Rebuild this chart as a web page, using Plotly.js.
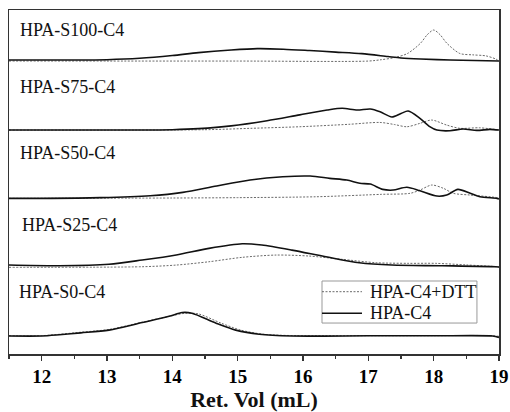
<!DOCTYPE html>
<html>
<head>
<meta charset="utf-8">
<script src="https://cdn.plot.ly/plotly-3.0.1.min.js"></script>
<style>html,body{margin:0;padding:0;background:#fff;}#chart{width:510px;height:412px;}</style>
</head>
<body>
<div id="chart"></div>
<script>
// Panel labels (top to bottom)
const panelLabels = ["HPA-S100-C4", "HPA-S75-C4", "HPA-S50-C4", "HPA-S25-C4", "HPA-S0-C4"];
const seriesNames = ["HPA-C4+DTT", "HPA-C4"];
const xTicks = [12, 13, 14, 15, 16, 17, 18, 19];

// HPA-S100-C4
const s100SolidX = [11.5, 12.5, 13.0, 13.5, 14.0, 14.4, 14.9, 15.3, 15.7, 16.1, 16.5, 16.9, 17.3, 17.5, 17.8, 18.25, 19.0];
const s100SolidY = [0.015, 0.015, 0.02, 0.04, 0.08, 0.122, 0.16, 0.18, 0.172, 0.152, 0.13, 0.107, 0.065, 0.045, 0.03, 0.015, 0.0];
const s100DttX = [11.5, 13.0, 15.0, 17.0, 17.2, 17.4, 17.6, 17.8, 17.9, 18.0, 18.1, 18.2, 18.4, 18.6, 18.8, 18.95, 19.0];
const s100DttY = [0.0, 0.0, 0.0, 0.0, 0.02, 0.05, 0.11, 0.26, 0.38, 0.45, 0.38, 0.26, 0.11, 0.09, 0.075, 0.03, 0.0];

// HPA-S75-C4
const s75SolidX = [11.5, 13.5, 14.0, 14.4, 14.9, 15.45, 15.95, 16.37, 16.6, 16.83, 17.03, 17.18, 17.36, 17.5, 17.61, 17.79, 17.94, 18.05, 18.25, 18.45, 18.66, 18.86, 19.0];
const s75SolidY = [0.0, 0.0, 0.005, 0.02, 0.06, 0.135, 0.22, 0.29, 0.315, 0.29, 0.305, 0.265, 0.19, 0.24, 0.275, 0.17, 0.05, 0.0, -0.01, 0.015, -0.005, 0.01, 0.0];
const s75DttX = [11.5, 14.5, 15.2, 15.95, 16.7, 17.18, 17.4, 17.59, 17.79, 17.97, 18.2, 18.4, 18.7, 18.97, 19.0];
const s75DttY = [0.0, 0.005, 0.025, 0.048, 0.083, 0.11, 0.08, 0.048, 0.097, 0.145, 0.072, 0.025, 0.033, 0.005, 0.0];

// HPA-S50-C4
const s50SolidX = [11.5, 12.0, 12.9, 13.66, 14.16, 14.68, 15.19, 15.69, 16.11, 16.41, 16.67, 16.87, 17.03, 17.22, 17.38, 17.59, 17.79, 18.05, 18.2, 18.37, 18.56, 18.71, 18.97, 19.0];
const s50SolidY = [0.01, 0.01, 0.02, 0.048, 0.097, 0.19, 0.275, 0.323, 0.333, 0.30, 0.275, 0.228, 0.217, 0.14, 0.13, 0.17, 0.12, 0.043, 0.058, 0.14, 0.083, 0.033, 0.01, 0.0];
const s50DttX = [11.5, 14.0, 15.0, 16.2, 17.2, 17.64, 17.79, 17.97, 18.15, 18.3, 18.56, 18.97, 19.0];
const s50DttY = [0.01, 0.015, 0.02, 0.033, 0.068, 0.083, 0.13, 0.203, 0.155, 0.083, 0.058, 0.02, 0.01];

// HPA-S25-C4
const s25SolidX = [11.5, 12.27, 13.03, 13.54, 14.06, 14.56, 15.07, 15.37, 15.83, 16.35, 16.86, 17.36, 18.13, 18.95, 19.0];
const s25SolidY = [0.043, 0.033, 0.054, 0.116, 0.19, 0.285, 0.352, 0.333, 0.26, 0.164, 0.077, 0.043, 0.033, 0.019, 0.015];
const s25DttX = [11.5, 13.54, 14.06, 14.56, 15.07, 15.59, 16.09, 16.6, 17.12, 17.62, 18.03, 18.5, 18.95, 19.0];
const s25DttY = [0.01, 0.019, 0.043, 0.091, 0.155, 0.188, 0.174, 0.126, 0.077, 0.068, 0.068, 0.045, 0.019, 0.01];

// HPA-S0-C4
const s0SolidX = [11.5, 12.0, 12.27, 12.6, 13.03, 13.54, 13.95, 14.15, 14.3, 14.67, 14.97, 15.33, 15.83, 17.0, 18.0, 18.9, 19.0];
const s0SolidY = [0.015, 0.015, 0.033, 0.06, 0.1, 0.21, 0.30, 0.355, 0.345, 0.2, 0.1, 0.04, 0.015, 0.018, 0.018, 0.015, -0.005];
const s0DttX = [11.5, 12.0, 12.6, 13.03, 13.54, 13.95, 14.2, 14.4, 14.75, 15.05, 15.4, 15.9, 17.0, 18.0, 18.9, 19.0];
const s0DttY = [0.02, 0.02, 0.07, 0.11, 0.215, 0.30, 0.345, 0.335, 0.2, 0.1, 0.04, 0.02, 0.02, 0.02, 0.02, 0.01];

const solidX = [s100SolidX, s75SolidX, s50SolidX, s25SolidX, s0SolidX];
const solidY = [s100SolidY, s75SolidY, s50SolidY, s25SolidY, s0SolidY];
const dttX = [s100DttX, s75DttX, s50DttX, s25DttX, s0DttX];
const dttY = [s100DttY, s75DttY, s50DttY, s25DttY, s0DttY];

// stacking offset for each panel (top panel highest)
const panelOffsets = [4, 3, 2, 1, 0];
const labelLift = [0.45, 0.62, 0.67, 0.62, 0.65];
const labelX = [0.018, 0.018, 0.018, 0.023, 0.016];

const serif = "'Liberation Serif', 'Times New Roman', serif";
const dttDash = '2px,1.5px';
const dttColor = '#6a6a6a';
const solidColor = '#111';
const dttLine = {color: dttColor, width: 1, dash: dttDash, shape: 'spline', smoothing: 0.8};
const solidLine = {color: solidColor, width: 1.6, shape: 'spline', smoothing: 0.8};

const traces = [];
for (let i = 0; i < 5; i++) {
  const off = panelOffsets[i];
  traces.push({
    x: dttX[i], y: dttY[i].map(v => v + off), type: 'scatter', mode: 'lines',
    name: seriesNames[0], line: dttLine, showlegend: false, hoverinfo: 'skip'
  });
  traces.push({
    x: solidX[i], y: solidY[i].map(v => v + off), type: 'scatter', mode: 'lines',
    name: seriesNames[1], line: solidLine, showlegend: false, hoverinfo: 'skip'
  });
}

const annotations = panelLabels.map((t, i) => ({
  text: t, xref: 'paper', yref: 'y', x: labelX[i], y: panelOffsets[i] + labelLift[i],
  xanchor: 'left', yanchor: 'middle', showarrow: false,
  font: {family: serif, size: 18, color: '#111'}
}));

// legend box (drawn as paper-positioned shapes + text)
const lgX0 = 0.6388, lgX1 = 0.955, lgY0 = 0.090, lgY1 = 0.2122;
const lgSampleX1 = 0.7204, lgTextX = 0.7327;
const lgRows = [0.1811, 0.1183];
const shapes = [
  {type: 'rect', xref: 'paper', yref: 'paper', x0: lgX0, x1: lgX1, y0: lgY0, y1: lgY1,
   line: {color: '#999', width: 1}, fillcolor: '#fff', layer: 'above'},
  {type: 'line', xref: 'paper', yref: 'paper', x0: lgX0, x1: lgSampleX1, y0: lgRows[0], y1: lgRows[0],
   line: {color: dttColor, width: 1, dash: dttDash}, layer: 'above'},
  {type: 'line', xref: 'paper', yref: 'paper', x0: lgX0, x1: lgSampleX1, y0: lgRows[1], y1: lgRows[1],
   line: {color: solidColor, width: 1.6}, layer: 'above'}
];
seriesNames.forEach((n, i) => annotations.push({
  text: n, xref: 'paper', yref: 'paper', x: lgTextX, y: lgRows[i],
  xanchor: 'left', yanchor: 'middle', showarrow: false,
  font: {family: serif, size: 18, color: '#111'}
}));

const layout = {
  width: 510, height: 412,
  margin: {l: 9, r: 11, t: 10, b: 58},
  paper_bgcolor: '#fff', plot_bgcolor: '#fff',
  showlegend: false,
  xaxis: {
    range: [11.5, 19], tickvals: xTicks, ticktext: xTicks.map(v => '<b>' + v + '</b>'),
    ticks: 'outside', ticklen: 5, tickwidth: 1.2, tickcolor: '#333',
    minor: {dtick: 0.5, tick0: 11.5, ticks: 'outside', ticklen: 3, tickwidth: 1.2, tickcolor: '#333', showgrid: false},
    showline: true, linecolor: '#333', linewidth: 1.5, mirror: true,
    showgrid: false, zeroline: false,
    tickfont: {family: serif, size: 19, color: '#000', weight: 'bold'},
    title: {text: '<b>Ret. Vol (mL)</b>', font: {family: serif, size: 22, color: '#111'}, standoff: 4}
  },
  yaxis: {
    range: [-0.246, 4.74], showticklabels: false, ticks: '',
    showline: true, linecolor: '#333', linewidth: 1.5, mirror: true,
    showgrid: false, zeroline: false
  },
  shapes: shapes,
  annotations: annotations
};

Plotly.newPlot('chart', traces, layout, {displayModeBar: false, staticPlot: true});
</script>
</body>
</html>
